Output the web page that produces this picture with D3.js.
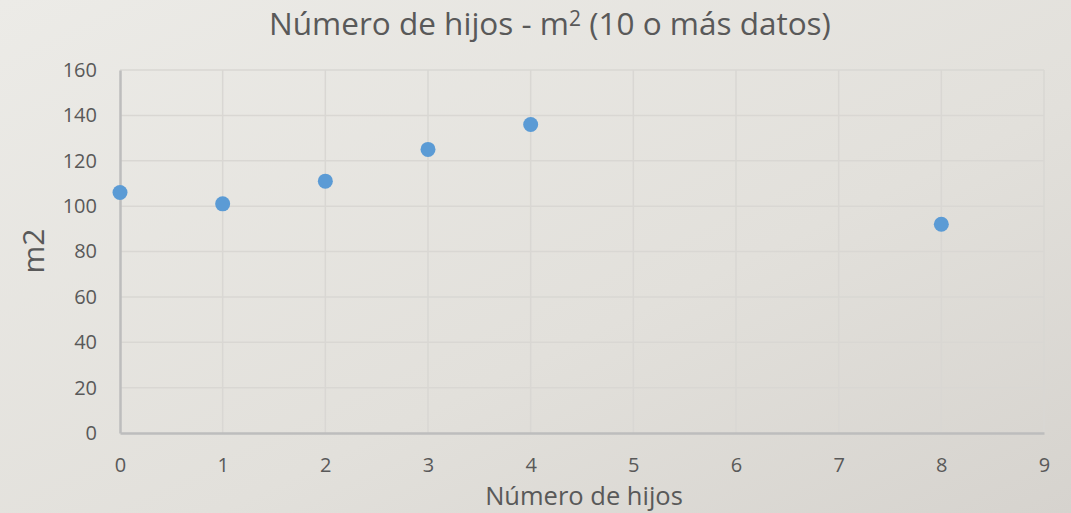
<!DOCTYPE html>
<html>
<head>
<meta charset="utf-8">
<script src="https://cdn.jsdelivr.net/npm/d3@7"></script>
<style>
  body { margin: 0; }
  text { font-family: "Open Sans", "Noto Sans", sans-serif; fill: #595959; }
</style>
</head>
<body>
<div id="chart"></div>
<script>
// Data
const hijos = [0, 1, 2, 3, 4, 8];
const m2 = [106, 101, 111, 125, 136, 92];
const xTicks = [0, 1, 2, 3, 4, 5, 6, 7, 8, 9];
const yTicks = [0, 20, 40, 60, 80, 100, 120, 140, 160];

const W = 1071, H = 513;
const margin = {top: 70, right: 27, bottom: 80, left: 120},
    width = W - margin.left - margin.right,
    height = H - margin.top - margin.bottom;

const svg = d3.select("#chart")
    .append("svg")
        .attr("width", W)
        .attr("height", H);

// Background gradient
const defs = svg.append("defs");
const grad = defs.append("linearGradient")
    .attr("id", "bg")
    .attr("x1", "0%").attr("y1", "0%")
    .attr("x2", "100%").attr("y2", "100%");
grad.append("stop").attr("offset", "0%").attr("stop-color", "#ecebe7");
grad.append("stop").attr("offset", "60%").attr("stop-color", "#e2e0db");
grad.append("stop").attr("offset", "100%").attr("stop-color", "#d6d3ce");
svg.append("rect")
    .attr("width", W).attr("height", H)
    .attr("fill", "url(#bg)");

const g = svg.append("g")
    .attr("transform", "translate(" + margin.left + "," + margin.top + ")");

const x = d3.scaleLinear().domain([0, 9]).range([0, width]);
const y = d3.scaleLinear().domain([0, 160]).range([height, 0]);

// Grid lines
g.append("g")
    .selectAll("line")
    .data(yTicks.filter(d => d > 0))
    .enter().append("line")
    .attr("x1", 0).attr("x2", width)
    .attr("y1", d => y(d)).attr("y2", d => y(d))
    .attr("stroke", "#d9d7d3").attr("stroke-width", 1.5);
g.append("g")
    .selectAll("line")
    .data(xTicks.filter(d => d > 0))
    .enter().append("line")
    .attr("x1", d => x(d)).attr("x2", d => x(d))
    .attr("y1", 0).attr("y2", height)
    .attr("stroke", "#d9d7d3").attr("stroke-width", 1.5);

// Axes
const xAxis = g.append("g")
    .attr("transform", "translate(0," + height + ")")
    .call(d3.axisBottom(x).tickValues(xTicks).tickSize(0).tickPadding(39));
xAxis.selectAll("text").attr("dy", 0);
const yAxis = g.append("g")
    .call(d3.axisLeft(y).tickValues(yTicks).tickSize(0).tickPadding(23));
[xAxis, yAxis].forEach(a => {
    a.select(".domain").attr("stroke", "#bdbdbd").attr("stroke-width", 2.5);
    a.selectAll("text").style("font-size", "20px").attr("fill", "#595959");
});

// Points
g.selectAll("circle")
    .data(hijos)
    .enter().append("circle")
    .attr("cx", (d, i) => x(d))
    .attr("cy", (d, i) => y(m2[i]))
    .attr("r", 7.5)
    .attr("fill", "#5b9bd5");

// Title
const title = svg.append("text")
    .attr("x", 550).attr("y", 35)
    .attr("text-anchor", "middle")
    .style("font-size", "31.5px");
title.append("tspan").text("Número de hijos - m");
title.append("tspan").attr("dy", -9).style("font-size", "21px").text("2");
title.append("tspan").attr("dy", 9).text(" (10 o más datos)");

// Axis labels
svg.append("text")
    .attr("x", margin.left + x(4.5) + 2).attr("y", 505)
    .attr("text-anchor", "middle")
    .style("font-size", "25.5px")
    .text("Número de hijos");
svg.append("text")
    .attr("transform", "translate(44,251) rotate(-90)")
    .attr("text-anchor", "middle")
    .style("font-size", "30px")
    .text("m2");
</script>
</body>
</html>
